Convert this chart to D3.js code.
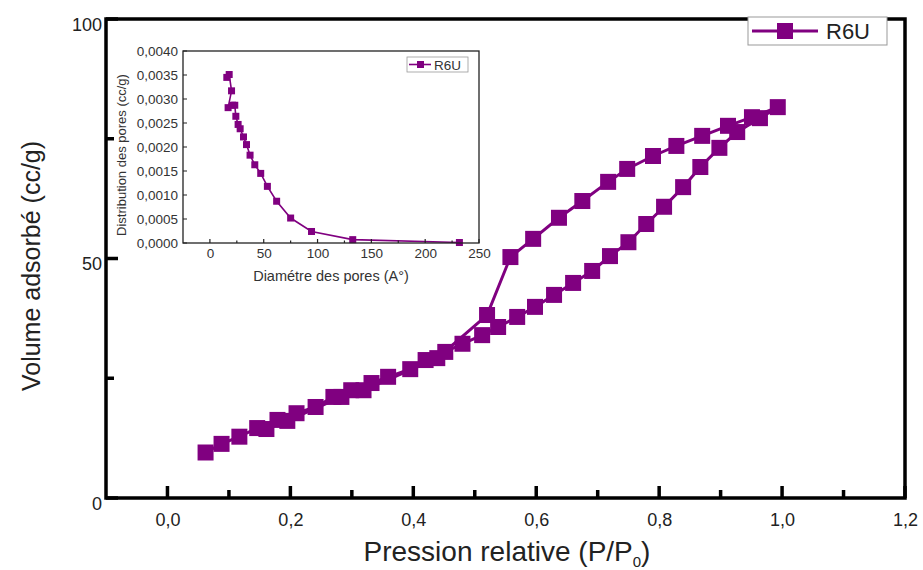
<!DOCTYPE html>
<html>
<head>
<meta charset="utf-8">
<script src="https://cdn.jsdelivr.net/npm/d3@7/dist/d3.min.js"></script>
<style>
  body { margin: 0; background: #fff; }
  text { font-family: "Liberation Sans", Arial, sans-serif; }
</style>
</head>
<body>
<div id="chart"></div>
<script>
// isotherme R6U : adsorption puis desorption
const adsP = [0.062,0.088,0.117,0.146,0.179,0.210,0.241,0.270,0.299,0.332,0.359,0.395,0.420,0.452,0.480,0.512,0.538,0.569,0.598,0.629,0.660,0.691,0.720,0.750,0.779,0.808,0.839,0.867,0.898,0.927,0.964,0.993]
const adsV = [9.5,11.3,12.8,14.6,16.3,17.7,19.0,21.1,22.5,24.0,25.3,26.9,28.8,30.5,32.2,34.0,35.7,37.8,39.9,42.4,44.9,47.4,50.5,53.4,57.2,60.8,64.9,69.1,73.1,76.4,79.3,81.6]
const desP = [0.951,0.912,0.870,0.828,0.790,0.748,0.717,0.675,0.637,0.595,0.558,0.520,0.439,0.319,0.283,0.195,0.161]
const desV = [79.5,77.7,75.6,73.5,71.4,68.7,66.0,62.0,58.5,54.1,50.3,38.2,29.2,22.5,21.1,16.1,14.4]

// distribution des pores (encart)
const poreD = [231.8,132.7,94.4,75.0,62.0,53.4,47.2,41.7,37.3,34.0,31.2,28.1,26.2,24.1,23.1,21.0,16.9,20.1,17.9,15.7]
const poreV = [0.00001,0.00007,0.00024,0.00052,0.00087,0.00118,0.00145,0.00163,0.00183,0.00205,0.00221,0.00238,0.00247,0.00264,0.00287,0.00287,0.00282,0.00317,0.00351,0.00345]

const xTicks = [0,0.2,0.4,0.6,0.8,1.0,1.2]
const xMinor = [0.1,0.3,0.5,0.7,0.9,1.1]
const yTicks = [0,50,100]
const yMinor = [25,75]
const inXTicks = [0,50,100,150,200,250]
const inXMinor = [25,75,125,175,225]
const inYTicks = [0,0.0005,0.001,0.0015,0.002,0.0025,0.003,0.0035,0.004]
const seriesName = "R6U"

const W = 923, H = 570
const col = "#800080"
const comma = f => v => d3.format(f)(v).replace(".", ",")

const svg = d3.select("#chart").append("svg").attr("width", W).attr("height", H)

// ticks vers l'interieur, en un seul path
function tickPath(sc, vals, base, len, horiz) {
  const p = d3.path()
  vals.forEach(v => {
    const t = sc(v)
    if (horiz) { p.moveTo(t, base); p.lineTo(t, base - len) }
    else { p.moveTo(base, t); p.lineTo(base + len, t) }
  })
  return p.toString()
}

// ---- graphe principal
const x = d3.scaleLinear().domain([-0.1, 1.2]).range([106, 905])
const y = d3.scaleLinear().domain([0, 100]).range([498, 19])

const pts = adsP.map((p, i) => [p, adsV[i]]).concat(desP.map((p, i) => [p, desV[i]]))

svg.append("path")
  .datum(pts)
  .attr("fill", "none")
  .attr("stroke", col)
  .attr("stroke-width", 3)
  .attr("d", d3.line().x(d => x(d[0])).y(d => y(d[1])))

svg.append("g").selectAll("rect").data(pts).join("rect")
  .attr("x", d => x(d[0]) - 8).attr("y", d => y(d[1]) - 8)
  .attr("width", 16).attr("height", 16)
  .attr("fill", col)

// labels des axes
const gx = svg.append("g").attr("transform", "translate(0,498)")
  .call(d3.axisBottom(x).tickValues(xTicks).tickSize(0).tickPadding(15).tickFormat(comma(".1f")))
const gy = svg.append("g").attr("transform", "translate(106,0)")
  .call(d3.axisLeft(y).tickValues(yTicks).tickSize(0).tickPadding(4).tickFormat(d3.format("d")))
;[gx, gy].forEach(g => {
  g.select(".domain").remove()
  g.selectAll("text").attr("font-size", 18).attr("fill", "#222")
})
gy.selectAll("text").attr("dy", "0.62em")

svg.append("rect").attr("x", 106).attr("y", 19).attr("width", 799).attr("height", 479)
  .attr("fill", "none").attr("stroke", "#000").attr("stroke-width", 3.5)

svg.append("path")
  .attr("d", tickPath(x, xTicks, 498, 12, true) + tickPath(x, xMinor, 498, 8, true)
    + tickPath(y, yTicks, 106, 12, false) + tickPath(y, yMinor, 106, 8, false))
  .attr("fill", "none").attr("stroke", "#000").attr("stroke-width", 3.5)

const xt = svg.append("text").attr("x", 507).attr("y", 561).attr("text-anchor", "middle")
  .attr("font-size", 28).attr("fill", "#222")
xt.append("tspan").text("Pression relative (P/P")
xt.append("tspan").attr("font-size", 15).attr("dy", 6).text("0")
xt.append("tspan").attr("dy", -6).text(")")

svg.append("text").attr("transform", "translate(40,266) rotate(-90)").attr("text-anchor", "middle")
  .attr("font-size", 25).attr("fill", "#222").text("Volume adsorbé (cc/g)")

// legende principale
const lg = svg.append("g")
lg.append("rect").attr("x", 748).attr("y", 17).attr("width", 139).attr("height", 28)
  .attr("fill", "#fff").attr("stroke", "#999").attr("stroke-width", 1)
lg.append("line").attr("x1", 752).attr("x2", 818).attr("y1", 31).attr("y2", 31)
  .attr("stroke", col).attr("stroke-width", 3)
lg.append("rect").attr("x", 777).attr("y", 23).attr("width", 16).attr("height", 16).attr("fill", col)
lg.append("text").attr("x", 826).attr("y", 39).attr("font-size", 22).attr("fill", "#222").text(seriesName)

// ---- encart
const ix = d3.scaleLinear().domain([-25, 250]).range([183, 479])
const iy = d3.scaleLinear().domain([0, 0.004]).range([243, 51])

svg.append("rect").attr("x", 183).attr("y", 51).attr("width", 296).attr("height", 192)
  .attr("fill", "#fff")

const ipts = poreD.map((d, i) => [d, poreV[i]])
svg.append("path").datum(ipts)
  .attr("fill", "none").attr("stroke", col).attr("stroke-width", 1.6)
  .attr("d", d3.line().x(d => ix(d[0])).y(d => iy(d[1])))
svg.append("g").selectAll("rect").data(ipts).join("rect")
  .attr("x", d => ix(d[0]) - 3.5).attr("y", d => iy(d[1]) - 3.5)
  .attr("width", 7).attr("height", 7).attr("fill", col)

const igx = svg.append("g").attr("transform", "translate(0,243)")
  .call(d3.axisBottom(ix).tickValues(inXTicks).tickSize(0).tickPadding(5))
const igy = svg.append("g").attr("transform", "translate(183,0)")
  .call(d3.axisLeft(iy).tickValues(inYTicks).tickSize(0).tickPadding(5).tickFormat(comma(".4f")))
;[igx, igy].forEach(g => {
  g.select(".domain").remove()
  g.selectAll("text").attr("font-size", 13.5).attr("fill", "#333")
})

svg.append("rect").attr("x", 183).attr("y", 51).attr("width", 296).attr("height", 192)
  .attr("fill", "none").attr("stroke", "#222").attr("stroke-width", 1.3)

svg.append("path")
  .attr("d", tickPath(ix, inXTicks, 243, 4, true) + tickPath(ix, inXMinor, 243, 2.5, true)
    + tickPath(iy, inYTicks, 183, 4, false))
  .attr("fill", "none").attr("stroke", "#222").attr("stroke-width", 1.2)

svg.append("text").attr("x", 331).attr("y", 281).attr("text-anchor", "middle")
  .attr("font-size", 14.5).attr("fill", "#333").text("Diamétre des pores (A°)")
svg.append("text").attr("transform", "translate(126,155) rotate(-90)").attr("text-anchor", "middle")
  .attr("font-size", 13).attr("fill", "#333").text("Distribution des pores (cc/g)")

const ilg = svg.append("g")
ilg.append("rect").attr("x", 407).attr("y", 57).attr("width", 61).attr("height", 15)
  .attr("fill", "#fff").attr("stroke", "#999").attr("stroke-width", 0.8)
ilg.append("line").attr("x1", 409).attr("x2", 431).attr("y1", 64.5).attr("y2", 64.5)
  .attr("stroke", col).attr("stroke-width", 1.6)
ilg.append("rect").attr("x", 417).attr("y", 61).attr("width", 7).attr("height", 7).attr("fill", col)
ilg.append("text").attr("x", 434).attr("y", 69.5).attr("font-size", 13.5).attr("fill", "#333").text(seriesName)
</script>
</body>
</html>
